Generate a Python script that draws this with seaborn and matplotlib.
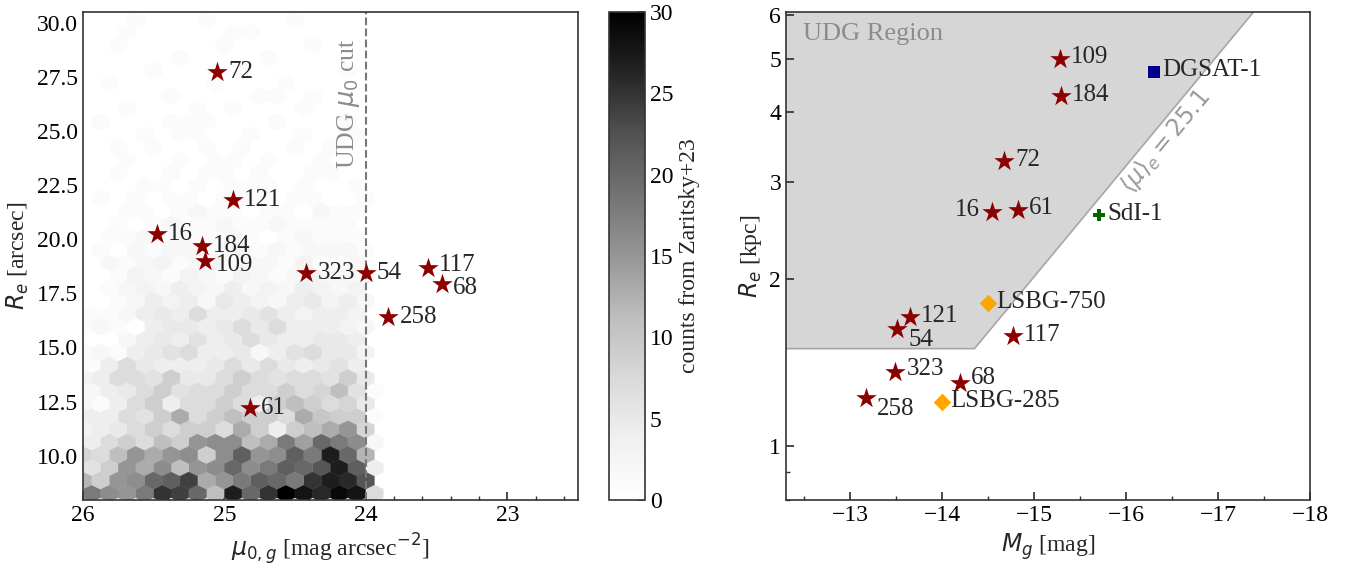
import numpy as np
import matplotlib
matplotlib.use("Agg")
import matplotlib.pyplot as plt
from matplotlib.ticker import MultipleLocator, FixedLocator, NullFormatter, FormatStrFormatter, LogLocator
import seaborn as sns
import pandas as pd

# ---------------- data: left panel (Zaritsky+23 hexbin counts) ----------------
# hex rows from bottom to top (17 cells each), listed left -> right as seen
# in the plot (mu0 decreasing); odd rows are the half-offset rows.
hex_counts = [
    [18, 16, 15, 18, 25, 24, 20, 11, 27, 20, 25, 30, 28, 26, 29, 28, 7],
    [12, 9, 15, 16, 20, 21, 24, 13, 15, 18, 21, 20, 18, 25, 27, 26, 22],
    [6, 9, 15, 13, 16, 11, 15, 16, 20, 16, 18, 21, 20, 22, 27, 21, 4],
    [8, 7, 11, 15, 13, 15, 16, 9, 16, 21, 15, 16, 21, 18, 27, 20, 12],
    [4, 7, 9, 7, 11, 9, 15, 16, 16, 11, 13, 18, 14, 20, 18, 16, 2],
    [3, 4, 5, 7, 9, 7, 9, 9, 7, 13, 9, 4, 9, 11, 13, 15, 8],
    [4, 4, 7, 6, 9, 13, 7, 9, 11, 9, 9, 7, 13, 10, 9, 9, 1],
    [2, 1, 4, 7, 9, 4, 7, 7, 9, 7, 4, 9, 11, 9, 7, 8, 5],
    [2, 4, 5, 7, 9, 6, 7, 7, 9, 7, 7, 9, 7, 8, 11, 6, 1],
    [3, 4, 7, 7, 6, 9, 5, 5, 7, 9, 7, 6, 7, 7, 6, 9, 5],
    [1, 4, 7, 5, 4, 4, 4, 5, 7, 5, 7, 5, 4, 5, 6, 4, 0],
    [1, 2, 1, 4, 5, 6, 7, 4, 4, 5, 2, 4, 6, 7, 5, 5, 3],
    [0, 0, 2, 4, 5, 4, 6, 4, 5, 7, 5, 4, 4, 5, 5, 4, 0],
    [1, 2, 1, 0, 4, 5, 5, 4, 5, 7, 5, 7, 4, 4, 4, 3, 2],
    [1, 1, 2, 4, 5, 4, 7, 4, 4, 5, 6, 4, 3, 4, 4, 3, 0],
    [0, 0, 1, 2, 4, 3, 4, 2, 5, 4, 3, 2, 4, 5, 3, 4, 2],
    [0, 1, 2, 3, 2, 4, 3, 2, 4, 2, 3, 2, 4, 3, 2, 3, 0],
    [0, 0, 1, 3, 2, 1, 3, 2, 1, 3, 2, 1, 2, 3, 2, 2, 1],
    [0, 2, 1, 2, 3, 1, 2, 3, 1, 2, 2, 1, 3, 1, 1, 2, 0],
    [0, 1, 0, 2, 1, 2, 2, 1, 2, 3, 1, 2, 1, 2, 2, 2, 1],
    [0, 1, 1, 2, 1, 2, 1, 1, 2, 1, 0, 1, 2, 1, 1, 1, 0],
    [0, 0, 1, 0, 1, 2, 1, 1, 2, 1, 1, 2, 1, 1, 1, 1, 0],
    [0, 0, 1, 1, 0, 1, 2, 1, 1, 0, 1, 1, 0, 2, 1, 1, 0],
    [0, 1, 0, 1, 0, 1, 1, 0, 1, 1, 1, 0, 1, 1, 0, 0, 1],
    [0, 0, 0, 1, 1, 0, 1, 0, 1, 1, 1, 0, 1, 0, 0, 1, 0],
    [0, 0, 1, 0, 0, 1, 0, 1, 1, 0, 1, 0, 0, 1, 1, 0, 0],
    [0, 0, 1, 0, 0, 1, 0, 1, 1, 0, 1, 0, 0, 1, 0, 0, 0],
    [0, 0, 1, 0, 1, 0, 0, 1, 0, 1, 0, 0, 1, 0, 1, 0, 0],
    [0, 0, 0, 1, 0, 1, 1, 0, 0, 1, 0, 0, 1, 0, 0, 1, 0],
    [0, 1, 0, 0, 0, 1, 1, 1, 0, 0, 0, 1, 0, 0, 0, 1, 0],
    [0, 0, 1, 0, 0, 0, 1, 0, 1, 0, 0, 0, 1, 0, 0, 0, 0],
    [0, 0, 0, 0, 0, 1, 0, 0, 0, 0, 1, 1, 0, 1, 0, 0, 0],
    [0, 1, 0, 0, 0, 0, 0, 1, 0, 0, 0, 1, 0, 0, 0, 0, 0],
    [0, 0, 0, 0, 1, 0, 0, 0, 0, 1, 0, 0, 0, 0, 0, 1, 0],
    [0, 0, 0, 0, 0, 1, 0, 0, 0, 0, 1, 0, 0, 0, 0, 0, 0],
    [0, 0, 1, 0, 0, 0, 0, 0, 1, 0, 0, 0, 0, 1, 0, 0, 0],
    [0, 0, 1, 0, 0, 0, 0, 0, 1, 1, 0, 0, 0, 0, 0, 0, 0],
    [0, 0, 0, 1, 0, 0, 0, 1, 0, 0, 0, 0, 1, 0, 0, 0, 0],
]
# hex bin grid (mu0 origin/step, Re origin/step)
HEX_X0, HEX_DX = 23.94, 0.125
HEX_Y0, HEX_DY = 8.255, 1.184
HEX_NX, HEX_NY = 17, 19

# our galaxies (left panel)
left_ids = ["72", "121", "16", "184", "109", "323", "54", "117", "68", "258", "61"]
left_mu0 = [25.05, 24.94, 25.48, 25.16, 25.14, 24.42, 24.00, 23.56, 23.46, 23.84, 24.82]
left_re_arcsec = [27.73, 21.81, 20.23, 19.71, 19.00, 18.44, 18.44, 18.67, 17.95, 16.42, 12.19]

# ---------------- data: right panel ----------------
right_ids = ["109", "184", "72", "16", "61", "121", "54", "117", "323", "68", "258"]
right_Mg = [-15.28, -15.29, -14.67, -14.54, -14.82, -13.65, -13.51, -14.77, -13.49, -14.19, -13.17]
right_re_kpc = [5.00, 4.28, 3.27, 2.65, 2.67, 1.71, 1.63, 1.58, 1.36, 1.30, 1.22]

lit_names = ["DGSAT-1", "SdI-1", "LSBG-750", "LSBG-285"]
lit_Mg = [-16.30, -15.70, -14.50, -14.00]
lit_re_kpc = [4.74, 2.61, 1.81, 1.20]

UDG_RE_MIN = 1.5
UDG_MU_E = 25.1

# ---------------- style ----------------
sns.set_theme(style="ticks")
plt.rcParams['font.family'] = ['Liberation Serif', 'DejaVu Serif']
plt.rcParams['mathtext.fontset'] = 'dejavusans'
plt.rcParams.update({
    'font.size': 17,
    'axes.edgecolor': '#333333',
    'axes.linewidth': 1.2,
    'xtick.direction': 'in', 'ytick.direction': 'in',
    'xtick.color': '#333333', 'ytick.color': '#333333',
    'xtick.labelcolor': 'black', 'ytick.labelcolor': 'black',
    'xtick.major.size': 6, 'ytick.major.size': 6,
    'xtick.minor.size': 3, 'ytick.minor.size': 3,
    'xtick.labelsize': 17, 'ytick.labelsize': 17,
    'axes.labelsize': 17,
})

W, H = 1348, 574
fig = plt.figure(figsize=(W / 100, H / 100), dpi=100)

def frac(x0, x1, ytop, ybot):
    return [x0 / W, 1 - ybot / H, (x1 - x0) / W, (ybot - ytop) / H]

ax1 = fig.add_axes(frac(83, 578, 12, 500))
cax = fig.add_axes(frac(609, 645, 12, 500))
ax2 = fig.add_axes(frac(786, 1310, 12, 500))

# ---------------- left panel ----------------
hx, hy, hc = [], [], []
for r, row in enumerate(hex_counts):
    j = r // 2
    half = 0.0 if r % 2 == 0 else 0.5
    n = len(row)
    for k, c in enumerate(row):
        i = n - 1 - k
        hx.append(HEX_X0 + (i + half) * HEX_DX)
        hy.append(HEX_Y0 + (j + half) * HEX_DY)
        hc.append(c)

hb = ax1.hexbin(hx, hy, C=hc, reduce_C_function=np.sum,
                gridsize=(HEX_NX, HEX_NY),
                extent=(HEX_X0, HEX_X0 + HEX_NX * HEX_DX, HEX_Y0, HEX_Y0 + HEX_NY * HEX_DY),
                cmap='Greys', vmin=0, vmax=30, linewidths=0.3, zorder=1)

ax1.axvline(24.0, color='#777777', ls='--', lw=1.5, zorder=2)
ax1.annotate(r'UDG $\mu_0$ cut', xy=(24.0, 29.3), xytext=(-3, 0), textcoords='offset points',
             rotation=90, ha='right', va='top', color='#8c8c8c', fontsize=18.5)

df_left = pd.DataFrame({'mu0': left_mu0, 're': left_re_arcsec, 'id': left_ids})
sns.scatterplot(data=df_left, x='mu0', y='re', marker='*', s=240, color='#8b0000',
                linewidth=0, ax=ax1, zorder=3, legend=False)

left_offsets = {"68": (8, -3), "109": (8, -3), "117": (8, 2)}
for _, row in df_left.iterrows():
    dx, dy = left_offsets.get(row['id'], (8, 0))
    ax1.annotate(row['id'], (row['mu0'], row['re']), xytext=(dx, dy), textcoords='offset points',
                 ha='left', va='center', fontsize=18, zorder=4)

ax1.set_xlim(26, 22.5)
ax1.set_ylim(7.95, 30.5)
ax1.xaxis.set_major_locator(MultipleLocator(1))
ax1.xaxis.set_minor_locator(MultipleLocator(0.2))
ax1.yaxis.set_major_locator(MultipleLocator(2.5))
ax1.yaxis.set_major_formatter(FormatStrFormatter('%.1f'))
ax1.set_xlabel(r'$\mu_{0,g}$ [mag arcsec$^{-2}$]')
ax1.set_ylabel(r'$R_e$ [arcsec]')

cb = fig.colorbar(hb, cax=cax)
cb.set_ticks([0, 5, 10, 15, 20, 25, 30])
cb.set_label('counts from Zaritsky+23', fontsize=17)
cax.tick_params(direction='in', length=6, labelsize=17)
cb.outline.set_edgecolor('#333333')

# ---------------- right panel ----------------
ax2.set_yscale('log')
ax2.set_xlim(-12.3, -18)
ax2.set_ylim(0.8, 6.07)

re_edge = np.geomspace(UDG_RE_MIN, 7.0, 200)
m_edge = UDG_MU_E - 38.57 - 5 * np.log10(re_edge)
poly_x = np.concatenate([[-11.5], m_edge, [-11.5]])
poly_y = np.concatenate([[UDG_RE_MIN], re_edge, [7.0]])
ax2.fill(poly_x, poly_y, facecolor='#d6d6d6', edgecolor='#a6a6a6', lw=1.2, zorder=0)
ax2.text(0.033, 0.978, 'UDG Region', transform=ax2.transAxes, color='#8c8c8c',
         ha='left', va='top', fontsize=19)

df_right = pd.DataFrame({'Mg': right_Mg, 're': right_re_kpc, 'id': right_ids})
sns.scatterplot(data=df_right, x='Mg', y='re', marker='*', s=240, color='#8b0000',
                linewidth=0, ax=ax2, zorder=3, legend=False)
lit_style = {"DGSAT-1": ('s', '#00008b', 85), "SdI-1": ('P', '#006400', 85),
             "LSBG-750": ('D', '#ffa500', 80), "LSBG-285": ('D', '#ffa500', 80)}
for name, m, r in zip(lit_names, lit_Mg, lit_re_kpc):
    mk, col, sz = lit_style[name]
    sns.scatterplot(x=[m], y=[r], marker=mk, s=sz, color=col, linewidth=0, ax=ax2, zorder=3, legend=False)
    ax2.annotate(name, (m, r), xytext=(6, 1), textcoords='offset points',
                 ha='left', va='center', fontsize=18, zorder=4)

right_offsets = {"16": (-9, 1), "54": (8, -8), "258": (8, -8), "323": (8, 2), "68": (8, 4)}
for _, row in df_right.iterrows():
    dx, dy = right_offsets.get(row['id'], (8, 1))
    ax2.annotate(row['id'], (row['Mg'], row['re']), xytext=(dx, dy), textcoords='offset points',
                 ha='right' if dx < 0 else 'left', va='center', fontsize=18, zorder=4)

ax2.yaxis.set_major_locator(FixedLocator([1, 2, 3, 4, 5, 6]))
ax2.yaxis.set_major_formatter(FormatStrFormatter('%d'))
ax2.yaxis.set_minor_locator(LogLocator(subs=np.arange(2, 10) * 0.1 * 10, numticks=20))
ax2.yaxis.set_minor_formatter(NullFormatter())
ax2.xaxis.set_major_locator(MultipleLocator(1))
ax2.xaxis.set_minor_locator(MultipleLocator(0.5))
ax2.set_xlabel(r'$M_g$ [mag]')
ax2.set_ylabel(r'$R_e$ [kpc]')

# rotated label along the mu_e line
r_a, r_b = 2.5, 5.0
m_a = UDG_MU_E - 38.57 - 5 * np.log10(r_a)
m_b = UDG_MU_E - 38.57 - 5 * np.log10(r_b)
p_a = ax2.transData.transform((m_a, r_a))
p_b = ax2.transData.transform((m_b, r_b))
ang = np.degrees(np.arctan2(p_b[1] - p_a[1], p_b[0] - p_a[0]))
ax2.text(-16.43, 3.55, r'$\langle\mu\rangle_e = 25.1$', rotation=ang, rotation_mode='anchor',
         ha='center', va='center', color='#9a9a9a', fontsize=17)

for a in (ax1, ax2):
    a.tick_params(which='both', top=False, right=False)

fig.savefig('out.png', dpi=100)
